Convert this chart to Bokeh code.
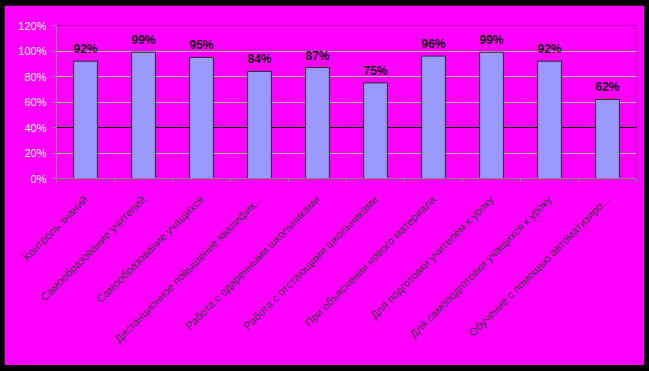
import math
from bokeh.plotting import figure
from bokeh.models import Range1d, FixedTicker, Grid, ColumnDataSource
from bokeh.layouts import column
from bokeh.core.properties import value
from bokeh.embed import file_html
from bokeh.resources import INLINE

categories = [
    "Контроль знаний",
    "Самообразование учителей",
    "Самообразование учащихся",
    "Дистанционное повышение квалифик...",
    "Работа с одаренными школьниками",
    "Работа с отстающими школьниками",
    "При объяснении нового материала",
    "Для подготовки учителем к уроку",
    "Для самоподготовки учащихся к уроку",
    "Обучение с помощью автоматизиро...",
]
values = [92, 99, 95, 84, 87, 75, 96, 99, 92, 62]
y_ticks = [0, 20, 40, 60, 80, 100, 120]
y_tick_labels = ["0%", "20%", "40%", "60%", "80%", "100%", "120%"]

n = len(categories)
xs = [i + 0.5 for i in range(n)]
src = ColumnDataSource(dict(x=xs, top=values, label=[f"{v}%" for v in values]))

MAG = "#ff00ff"
p = figure(width=640, height=360, output_backend="svg", toolbar_location=None,
           x_range=Range1d(0, n), y_range=Range1d(0, 120),
           background_fill_color=MAG, border_fill_color=MAG,
           min_border_left=52, min_border_right=8, min_border_top=20, min_border_bottom=187)
p.outline_line_color = None
p.margin = (5, 5, 6, 4)

p.xgrid.visible = False
p.ygrid.visible = False
g1 = Grid(dimension=1, ticker=FixedTicker(ticks=[20, 60, 80, 100]),
          grid_line_color="#b0b0b0", grid_line_width=1)
g2 = Grid(dimension=1, ticker=FixedTicker(ticks=[40]),
          grid_line_color="#000000", grid_line_width=1)
p.add_layout(g1)
p.add_layout(g2)

p.vbar(x="x", top="top", width=0.41, bottom=0, source=src,
       fill_color="#9999ff", line_color="#2a2a2a", line_width=1)

p.text(x="x", y="top", text="label", source=src, text_align="center",
       text_baseline="bottom", y_offset=-5,
       text_font=value("Liberation Sans"), text_font_style="bold",
       text_font_size="12px", text_color="#111111")

# y axis
ya = p.yaxis[0]
ya.ticker = FixedTicker(ticks=y_ticks)
ya.major_label_overrides = {t: l for t, l in zip(y_ticks, y_tick_labels)}
ya.axis_line_color = "#888888"
ya.major_tick_line_color = "#888888"
ya.major_tick_out = 4
ya.major_tick_in = 0
ya.minor_tick_line_color = None
ya.major_label_text_font = "Liberation Sans"
ya.major_label_text_font_size = "11px"
ya.major_label_text_color = "#f4f4f4"
ya.major_label_standoff = 6

# x axis
xa = p.xaxis[0]
xa.ticker = FixedTicker(ticks=xs, minor_ticks=list(range(n + 1)))
xa.major_label_overrides = {x: c for x, c in zip(xs, categories)}
xa.major_label_orientation = math.pi / 4
xa.axis_line_color = "#888888"
xa.major_tick_line_color = None
xa.major_tick_out = 0
xa.major_tick_in = 0
xa.minor_tick_line_color = "#888888"
xa.minor_tick_out = 4
xa.minor_tick_in = 0
xa.major_label_text_font = "Liberation Sans"
xa.major_label_text_font_size = "11px"
xa.major_label_text_color = "#3a3a3a"
xa.major_label_standoff = 15

layout = column(p, styles={"background-color": "#000000"}, width=649, height=371)

open("out.html", "w").write(file_html(layout, INLINE))
